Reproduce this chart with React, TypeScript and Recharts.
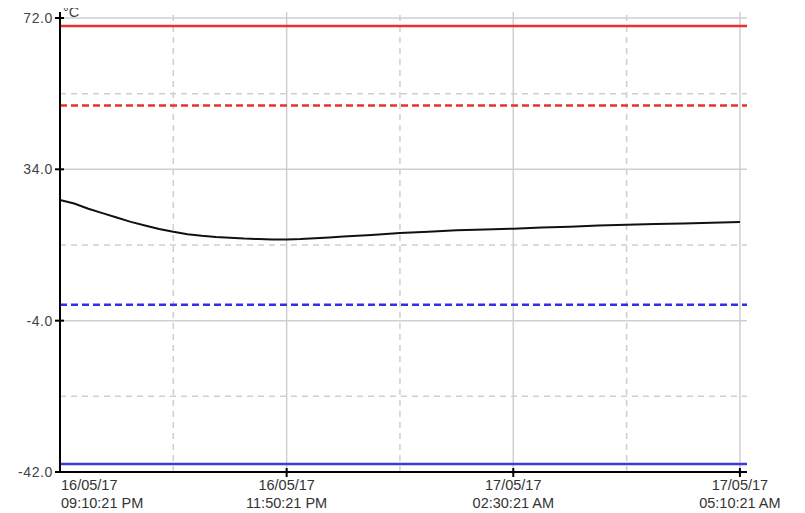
import React from "react";
import { LineChart, Line, XAxis, YAxis, ReferenceLine, Label } from "recharts";

// minutes since 16/05/17 09:10:21 PM
const minutes = [0, 10, 20, 30, 40, 50, 60, 70, 80, 90, 100, 110, 120, 130, 140, 150, 160, 170, 180, 190, 200, 220, 240, 260, 280, 300, 320, 340, 360, 380, 400, 420, 440, 460, 480];
const temps = [26.3, 25.4, 24.1, 23.0, 21.9, 20.8, 19.9, 19.0, 18.3, 17.7, 17.3, 17.0, 16.8, 16.6, 16.5, 16.4, 16.4, 16.5, 16.7, 16.9, 17.1, 17.5, 18.0, 18.3, 18.7, 18.9, 19.1, 19.4, 19.6, 19.9, 20.1, 20.3, 20.4, 20.6, 20.8];

const xTicks = [0, 160, 320, 480];
const xDates = ["16/05/17", "16/05/17", "17/05/17", "17/05/17"];
const xTimes = ["09:10:21 PM", "11:50:21 PM", "02:30:21 AM", "05:10:21 AM"];
const xMinorGrid = [80, 240, 400];
const xMajorGrid = [160, 320, 480];

const yTicks = [72, 34, -4, -42];
const yMajorGrid = [72, 34, -4];
const yMinorGrid = [53, 15, -23];

const unitLabel = "°C";

const highAlarm = 70;
const highWarn = 50;
const lowWarn = 0;
const lowAlarm = -40;

const data = minutes.map((m, i) => ({ m, temp: temps[i] }));

const FONT = "'Liberation Sans', Arial, Helvetica, sans-serif";

const XTick = (props: any) => {
  const { x, y, payload } = props;
  const i = xTicks.indexOf(payload.value);
  const anchor = i === 0 ? "start" : "middle";
  const tx = i === 0 ? x + 1 : x;
  return (
    <g>
      {i !== 0 && <line x1={x} x2={x} y1={y - 4} y2={y + 5} stroke="#000" strokeWidth={2} />}
      <text x={tx} y={y + 18} textAnchor={anchor} fontSize={14.5} fill="#333" fontFamily={FONT}>
        {xDates[i]}
      </text>
      <text x={tx} y={y + 35.5} textAnchor={anchor} fontSize={14.5} fill="#333" fontFamily={FONT}>
        {xTimes[i]}
      </text>
    </g>
  );
};

const YTick = (props: any) => {
  const { x, y, payload } = props;
  return (
    <g>
      <line x1={x - 5} x2={x + 4} y1={y} y2={y} stroke="#000" strokeWidth={2} />
      <text x={x - 7} y={y + 5} textAnchor="end" fontSize={14} letterSpacing={0.6} fill="#444" fontFamily={FONT}>
        {payload.value.toFixed(1)}
      </text>
    </g>
  );
};

const UnitLabel = (props: any) => {
  const vb = props.viewBox || {};
  const x = (vb.x ?? 0) + (vb.width ?? 52) + 3;
  return (
    <text x={x} y={15} fontSize={14.5} fill="#444" fontFamily={FONT}>
      {unitLabel}
    </text>
  );
};

export default function App() {
  return (
    <div style={{ width: 797, height: 511, marginTop: -6 }}>
      <LineChart
        width={797}
        height={511}
        data={data}
        margin={{ top: 10, right: 58, bottom: 0, left: 0 }}
      >
        <XAxis
          dataKey="m"
          type="number"
          domain={[0, 485]}
          ticks={xTicks}
          tick={<XTick />}
          tickSize={0}
          tickMargin={0}
          tickLine={false}
          height={41}
          axisLine={{ stroke: "#000", strokeWidth: 2 }}
          interval={0}
        />
        <YAxis
          type="number"
          domain={[-42, 73.5]}
          ticks={yTicks}
          tick={<YTick />}
          tickSize={0}
          tickMargin={0}
          tickLine={false}
          width={52}
          axisLine={{ stroke: "#000", strokeWidth: 2 }}
          interval={0}
          allowDataOverflow
        >
          <Label content={<UnitLabel />} />
        </YAxis>
        {yMajorGrid.map((v) => (
          <ReferenceLine key={"ym" + v} y={v} stroke="#cfcfcf" strokeWidth={1.5} />
        ))}
        {yMinorGrid.map((v) => (
          <ReferenceLine key={"yn" + v} y={v} stroke="#cfcfcf" strokeWidth={1.5} strokeDasharray="6 5" />
        ))}
        {xMajorGrid.map((v) => (
          <ReferenceLine key={"xm" + v} x={v} stroke="#cfcfcf" strokeWidth={1.5} />
        ))}
        {xMinorGrid.map((v) => (
          <ReferenceLine key={"xn" + v} x={v} stroke="#cfcfcf" strokeWidth={1.5} strokeDasharray="6 5" />
        ))}
        <ReferenceLine y={highAlarm} stroke="#e8322e" strokeWidth={2.5} />
        <ReferenceLine y={highWarn} stroke="#e8322e" strokeWidth={2.5} strokeDasharray="7 4" />
        <ReferenceLine y={lowWarn} stroke="#2f2fe6" strokeWidth={2.5} strokeDasharray="7 4" />
        <ReferenceLine y={lowAlarm} stroke="#3a3ae0" strokeWidth={2.5} />
        <Line
          dataKey="temp"
          type="linear"
          stroke="#111"
          strokeWidth={2}
          dot={false}
          isAnimationActive={false}
        />
      </LineChart>
    </div>
  );
}
